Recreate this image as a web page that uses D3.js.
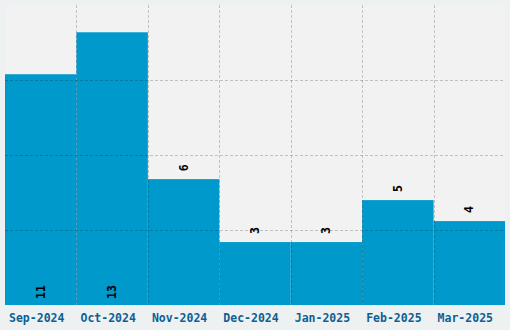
<!DOCTYPE html>
<html>
<head>
<meta charset="utf-8">
<script src="https://cdn.jsdelivr.net/npm/d3@7"></script>
<style>
  body { margin: 0; background: #edf1f2; }
  .chart svg { display: block; }
</style>
</head>
<body>
<div class="chart"></div>
<script>
var months = ["Sep-2024", "Oct-2024", "Nov-2024", "Dec-2024", "Jan-2025", "Feb-2025", "Mar-2025"];
var counts = [11, 13, 6, 3, 3, 5, 4];

var svgWidth = 510;
var svgHeight = 330;
var margin = { top: 5, right: 5, bottom: 25, left: 5 };
var width = svgWidth - margin.left - margin.right;
var height = svgHeight - margin.top - margin.bottom;

var svg = d3.select(".chart")
            .append("svg")
            .attr("width", svgWidth)
            .attr("height", svgHeight);

svg.append("rect")
   .attr("width", svgWidth)
   .attr("height", svgHeight)
   .attr("fill", "#edf1f2");

var chartGroup = svg.append("g")
                    .attr("transform", `translate(${margin.left}, ${margin.top})`);

chartGroup.append("rect")
          .attr("width", width)
          .attr("height", height)
          .attr("fill", "#f2f2f2");

// scales
var yMax = d3.max(counts) * 1.1;
var xBandScale = d3.scaleBand()
  .domain(months)
  .range([0, width])
  .padding(0);

var yLinearScale = d3.scaleLinear()
  .domain([0, yMax])
  .range([height, 0]);

// bars
chartGroup.selectAll(".bar")
          .data(counts)
          .enter()
          .append("rect")
          .attr("class", "bar")
          .attr("x", (d, i) => xBandScale(months[i]))
          .attr("width", xBandScale.bandwidth())
          .attr("y", d => yLinearScale(d))
          .attr("height", d => height - yLinearScale(d))
          .attr("fill", "#0099cc");

// grid lines on top of the bars
var gridY = [1, 2, 3].map(k => yMax * k / 4);
chartGroup.selectAll(".hgrid")
          .data(gridY)
          .enter()
          .append("line")
          .attr("x1", 0)
          .attr("x2", width)
          .attr("y1", d => Math.round(yLinearScale(d)) + 0.5)
          .attr("y2", d => Math.round(yLinearScale(d)) + 0.5)
          .attr("stroke", "rgba(0,0,0,0.2)")
          .attr("stroke-dasharray", "3,2");

chartGroup.selectAll(".vgrid")
          .data(months.slice(1))
          .enter()
          .append("line")
          .attr("x1", d => Math.round(xBandScale(d)) + 0.5)
          .attr("x2", d => Math.round(xBandScale(d)) + 0.5)
          .attr("y1", 0)
          .attr("y2", height)
          .attr("stroke", "rgba(0,0,0,0.2)")
          .attr("stroke-dasharray", "3,2");

// value labels, rotated
chartGroup.selectAll(".val")
          .data(counts)
          .enter()
          .append("text")
          .attr("transform", function (d, i) {
            var cx = xBandScale(months[i]) + xBandScale.bandwidth() / 2 + 4;
            var y = d > 10 ? height - 6 : yLinearScale(d) - 8;
            return `translate(${cx}, ${y}) rotate(-90)`;
          })
          .attr("text-anchor", "start")
          .attr("font-family", "'DejaVu Sans Mono', monospace")
          .attr("font-weight", "bold")
          .attr("font-size", "11.5px")
          .attr("fill", "#000")
          .text(d => d);

// x axis labels
var bottomAxis = d3.axisBottom(xBandScale).tickSize(0).tickPadding(9);
var xAxis = chartGroup.append("g")
          .attr("transform", `translate(-4, ${height})`)
          .call(bottomAxis);
xAxis.select(".domain").remove();
xAxis.selectAll("text")
     .attr("font-family", "'DejaVu Sans Mono', monospace")
     .attr("font-weight", "bold")
     .attr("font-size", "11.5px")
     .attr("fill", "#0e5f94");
</script>
</body>
</html>
